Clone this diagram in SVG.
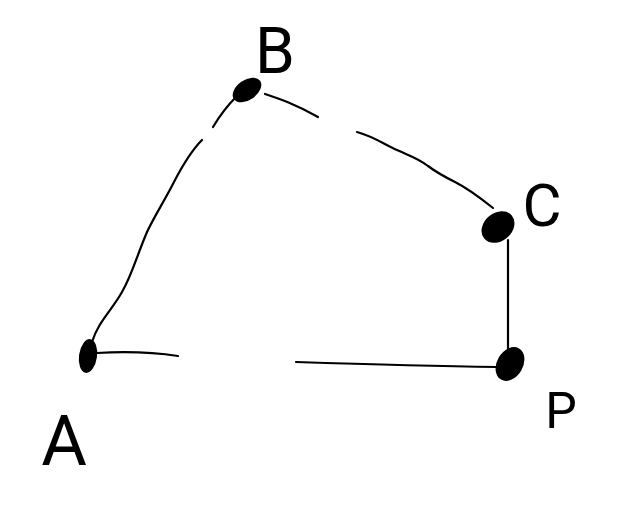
<svg xmlns="http://www.w3.org/2000/svg" width="630" height="511" viewBox="0 0 630 511">
<style>
.edge{fill:none;stroke:#000;stroke-width:2.2;stroke-linecap:round;stroke-linejoin:round}
.dot{fill:#000}
.lbl{font-family:"Roboto","Liberation Sans",sans-serif;font-weight:400;fill:#000;text-anchor:middle}
</style>
<rect width="630" height="511" fill="#fff"/>
<g id="connectors">
<path class="edge" d="M92,342 C98,322 112,310 122,292 C132,275 136,258 147,232 C155,215 165,200 175,180 C184,163 192,150 202,140"/>
<path class="edge" d="M213,127 C219,117 225,108 236,97"/>
<path class="edge" d="M265,94 C280,99 295,104 318,117"/>
<path class="edge" d="M357,132 C375,137 385,145 397,150 C410,156 418,158 428,166 C436,172 445,177 455,182 C465,187 478,196 493,208"/>
<path class="edge" d="M508,240 L508,350"/>
<path class="edge" d="M97,353 C115,352 145,351 178,356"/>
<path class="edge" d="M296,362 C360,364 430,366 497,367"/>
</g>
<g id="node-B">
<ellipse class="dot" cx="247" cy="90" rx="16" ry="10" transform="rotate(-35 247 90)"/>
<text class="lbl" x="275" y="73" font-size="64">B</text>
</g>
<g id="node-C">
<ellipse class="dot" cx="498" cy="227" rx="18" ry="14" transform="rotate(-40 498 227)"/>
<text class="lbl" x="542" y="226" font-size="60">C</text>
</g>
<g id="node-P">
<ellipse class="dot" cx="510" cy="364" rx="18" ry="13" transform="rotate(-60 510 364)"/>
<text class="lbl" x="561" y="428" font-size="50">P</text>
</g>
<g id="node-A">
<ellipse class="dot" cx="88" cy="356" rx="9" ry="17" transform="rotate(8 88 356)"/>
<text class="lbl" x="64" y="465" font-size="70">A</text>
</g>
</svg>
